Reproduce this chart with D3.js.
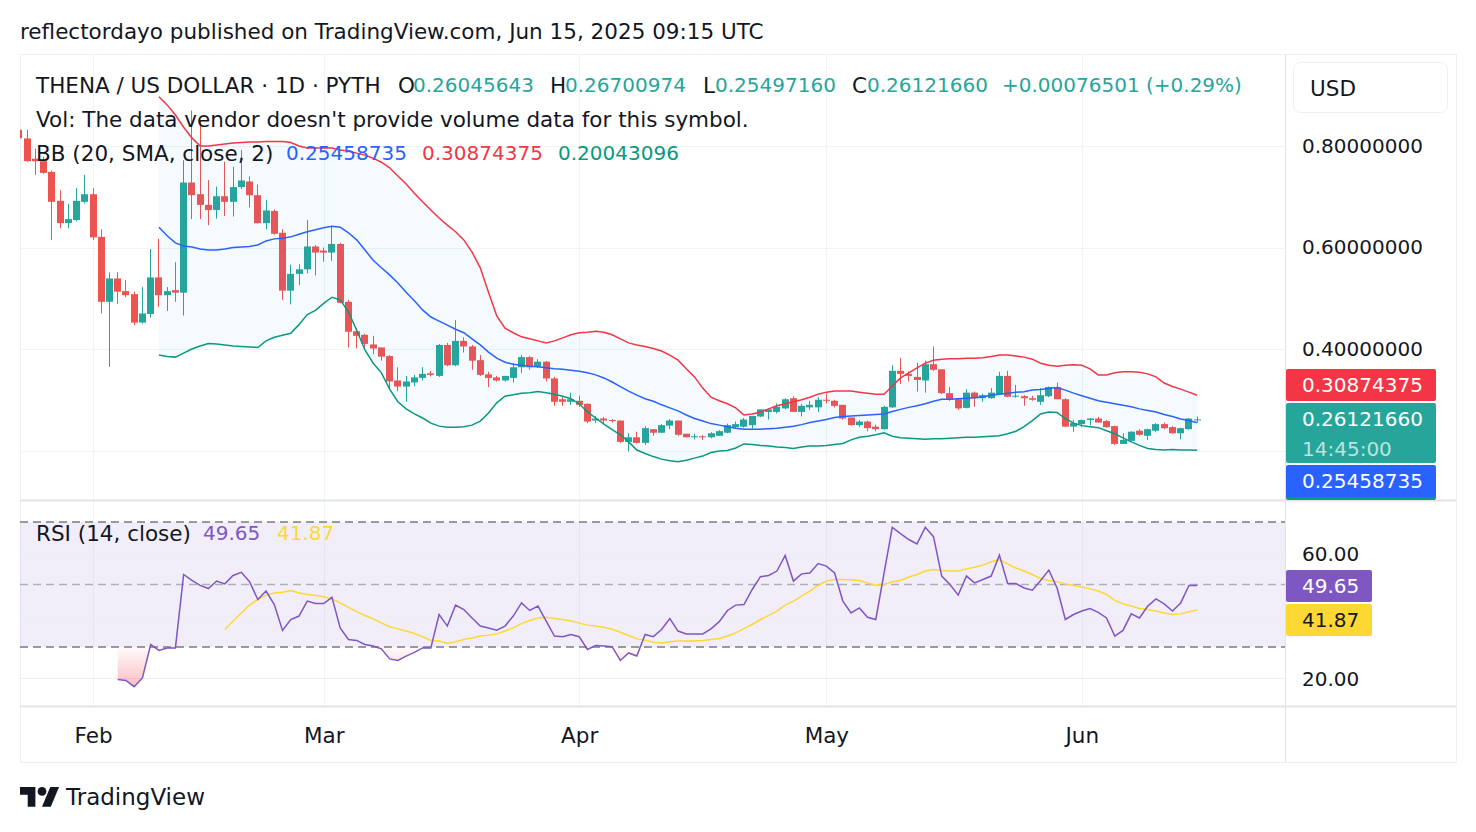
<!DOCTYPE html>
<html>
<head>
<meta charset="utf-8">
<script src="https://d3js.org/d3.v7.min.js"></script>
<style>
  body { margin: 0; background: #ffffff; }
  svg { display: block; font-family: "DejaVu Sans", "Noto Sans", sans-serif; }
</style>
</head>
<body>
<script>
// daily candles THENA/USD, first bar 2025-01-23
var firstDay = "2025-01-23";
var open = [0.832,0.815,0.775,0.770,0.749,0.692,0.648,0.654,0.690,
  0.705,0.621,0.493,0.539,0.514,0.508,0.452,0.469,0.541,0.506,0.516,0.511,0.728,0.705,0.684,0.674,0.701,0.690,0.719,0.730,0.703,0.648,0.672,0.629,0.515,0.548,0.557,0.602,
  0.594,0.590,0.607,0.493,0.435,0.428,0.409,0.403,0.386,0.338,0.326,0.334,0.343,0.352,0.347,0.408,0.368,0.416,0.405,0.378,0.350,0.344,0.338,0.343,0.364,0.384,0.365,0.375,0.342,0.301,0.296,
  0.298,0.292,0.259,0.263,0.260,0.259,0.217,0.226,0.215,0.242,0.235,0.249,0.259,0.233,0.226,0.228,0.226,0.229,0.235,0.246,0.247,0.250,0.267,0.276,0.276,0.283,0.303,0.276,0.285,0.285,
  0.300,0.298,0.290,0.265,0.250,0.257,0.247,0.242,0.285,0.357,0.351,0.345,0.338,0.370,0.360,0.313,0.301,0.284,0.314,0.303,0.303,0.311,0.347,0.306,0.307,0.303,0.296,0.307,0.325,0.301,0.247,
  0.252,0.260,0.263,0.258,0.248,0.213,0.219,0.239,0.229,0.239,0.252,0.246,0.234,0.242,0.26045643];
var high = [0.840,0.832,0.795,0.779,0.752,0.713,0.686,0.717,0.743,
  0.717,0.636,0.551,0.551,0.536,0.513,0.522,0.597,0.617,0.522,0.571,0.772,0.870,0.850,0.733,0.720,0.769,0.759,0.792,0.740,0.724,0.694,0.675,0.636,0.566,0.567,0.654,0.605,
  0.600,0.642,0.609,0.497,0.441,0.430,0.426,0.403,0.388,0.364,0.347,0.349,0.364,0.357,0.410,0.412,0.457,0.423,0.408,0.388,0.355,0.347,0.347,0.372,0.388,0.386,0.380,0.376,0.345,0.306,0.314,
  0.308,0.293,0.268,0.266,0.262,0.259,0.234,0.237,0.248,0.242,0.252,0.262,0.259,0.233,0.233,0.230,0.236,0.240,0.253,0.257,0.264,0.268,0.281,0.283,0.293,0.303,0.307,0.292,0.298,0.305,
  0.312,0.300,0.290,0.265,0.260,0.259,0.251,0.288,0.368,0.382,0.356,0.373,0.377,0.405,0.360,0.325,0.302,0.321,0.316,0.312,0.323,0.355,0.357,0.329,0.309,0.308,0.323,0.326,0.334,0.303,0.260,
  0.261,0.264,0.266,0.260,0.249,0.234,0.238,0.242,0.243,0.254,0.255,0.248,0.245,0.264,0.26700974];
var low = [0.808,0.769,0.743,0.745,0.615,0.638,0.638,0.652,0.687,
  0.615,0.470,0.365,0.489,0.502,0.447,0.450,0.462,0.483,0.475,0.493,0.466,0.656,0.656,0.644,0.657,0.662,0.661,0.715,0.679,0.647,0.636,0.625,0.497,0.488,0.526,0.549,0.545,
  0.572,0.574,0.490,0.403,0.401,0.398,0.390,0.377,0.323,0.317,0.296,0.327,0.338,0.346,0.345,0.366,0.366,0.393,0.359,0.347,0.325,0.336,0.336,0.334,0.353,0.359,0.363,0.336,0.288,0.288,0.290,
  0.286,0.254,0.254,0.252,0.255,0.215,0.198,0.214,0.211,0.229,0.235,0.242,0.229,0.226,0.222,0.221,0.224,0.229,0.234,0.245,0.245,0.243,0.266,0.261,0.273,0.281,0.276,0.267,0.280,0.276,
  0.293,0.285,0.261,0.249,0.246,0.238,0.238,0.241,0.284,0.331,0.336,0.316,0.314,0.357,0.311,0.298,0.280,0.283,0.286,0.296,0.302,0.310,0.305,0.304,0.288,0.298,0.290,0.305,0.301,0.246,0.237,
  0.246,0.250,0.255,0.245,0.211,0.213,0.219,0.229,0.221,0.236,0.242,0.233,0.222,0.241,0.25497160];
var close = [0.815,0.770,0.770,0.747,0.690,0.648,0.656,0.692,0.705,
  0.620,0.493,0.539,0.513,0.506,0.452,0.470,0.541,0.506,0.514,0.511,0.728,0.703,0.684,0.674,0.701,0.690,0.719,0.732,0.703,0.648,0.673,0.627,0.515,0.548,0.557,0.602,0.590,
  0.590,0.607,0.491,0.434,0.426,0.410,0.401,0.385,0.336,0.326,0.336,0.344,0.351,0.349,0.408,0.368,0.416,0.405,0.377,0.349,0.343,0.338,0.347,0.364,0.384,0.364,0.375,0.342,0.296,0.296,0.301,
  0.290,0.257,0.263,0.259,0.258,0.217,0.226,0.215,0.244,0.235,0.250,0.259,0.231,0.226,0.228,0.226,0.234,0.238,0.250,0.252,0.261,0.268,0.281,0.281,0.286,0.301,0.276,0.288,0.290,0.300,
  0.298,0.288,0.263,0.250,0.257,0.244,0.242,0.286,0.357,0.351,0.347,0.339,0.370,0.359,0.313,0.300,0.283,0.314,0.303,0.309,0.314,0.347,0.306,0.308,0.303,0.300,0.309,0.325,0.301,0.247,0.254,
  0.260,0.263,0.255,0.246,0.213,0.221,0.237,0.231,0.242,0.252,0.244,0.234,0.244,0.263,0.26121660];

// Bollinger Bands (20, 2), first value 2025-02-09
var bbStart = "2025-02-09";
var bbUpper = [0.897,0.881,0.861,0.837,0.816,0.800,0.800,0.802,0.804,0.806,0.807,0.808,0.808,0.809,0.809,0.809,0.807,0.800,0.796,0.796,
  0.796,0.796,0.792,0.790,0.786,0.782,0.776,0.768,0.757,0.741,0.725,0.707,0.690,0.674,0.658,0.644,0.631,0.615,0.591,0.560,0.512,0.465,0.441,0.432,0.424,0.420,0.416,0.412,0.416,0.422,0.428,
  0.432,0.433,0.435,0.433,0.428,0.420,0.412,0.408,0.405,0.401,0.396,0.388,0.378,0.361,0.345,0.323,0.305,0.298,0.292,0.284,0.270,0.272,0.276,0.282,0.288,0.292,0.296,0.300,0.305,0.311,
  0.315,0.317,0.317,0.317,0.315,0.313,0.311,0.311,0.327,0.343,0.353,0.363,0.372,0.378,0.380,0.381,0.381,0.382,0.382,0.383,0.385,0.388,0.388,0.386,0.384,0.380,0.372,0.368,0.366,0.368,0.369,
  0.368,0.361,0.349,0.349,0.353,0.355,0.355,0.354,0.351,0.345,0.333,0.326,0.321,0.315,0.30874375];
var bbBasis = [0.640,0.623,0.609,0.603,0.601,0.597,0.595,0.595,0.597,0.600,0.601,0.602,0.605,0.613,0.617,0.618,0.621,0.626,0.631,0.635,
  0.639,0.642,0.640,0.629,0.615,0.595,0.575,0.560,0.546,0.530,0.512,0.495,0.477,0.463,0.455,0.447,0.439,0.432,0.420,0.408,0.394,0.382,0.374,0.370,0.368,0.366,0.365,0.363,0.361,0.360,0.358,
  0.356,0.353,0.349,0.343,0.335,0.326,0.317,0.309,0.302,0.297,0.290,0.284,0.278,0.270,0.263,0.258,0.253,0.250,0.247,0.244,0.242,0.242,0.242,0.243,0.244,0.246,0.248,0.251,0.255,0.258,
  0.261,0.265,0.267,0.268,0.269,0.270,0.271,0.272,0.277,0.281,0.285,0.288,0.292,0.297,0.301,0.301,0.302,0.303,0.304,0.306,0.309,0.311,0.313,0.315,0.316,0.319,0.320,0.322,0.324,0.319,0.313,
  0.308,0.303,0.298,0.295,0.292,0.289,0.286,0.282,0.279,0.276,0.271,0.267,0.262,0.259,0.25458735];
var bbLower = [0.388,0.385,0.384,0.392,0.400,0.406,0.411,0.410,0.408,0.406,0.405,0.404,0.403,0.416,0.423,0.427,0.431,0.448,0.468,0.476,
  0.490,0.502,0.497,0.473,0.437,0.398,0.372,0.353,0.321,0.296,0.282,0.272,0.264,0.254,0.248,0.246,0.246,0.247,0.250,0.258,0.274,0.294,0.307,0.310,0.313,0.314,0.316,0.314,0.311,0.307,0.302,
  0.292,0.276,0.264,0.252,0.241,0.231,0.217,0.201,0.194,0.188,0.183,0.180,0.178,0.181,0.185,0.189,0.196,0.199,0.200,0.205,0.213,0.212,0.210,0.209,0.207,0.206,0.204,0.207,0.209,0.209,
  0.210,0.212,0.214,0.221,0.226,0.228,0.231,0.235,0.228,0.225,0.224,0.223,0.222,0.223,0.223,0.224,0.225,0.226,0.226,0.227,0.228,0.229,0.233,0.238,0.247,0.259,0.272,0.276,0.275,0.263,0.254,
  0.249,0.247,0.245,0.239,0.233,0.225,0.217,0.210,0.204,0.202,0.201,0.202,0.201,0.201,0.20043096];

// RSI (14) from 2025-02-04, its moving average from 2025-02-17
var rsiStart = "2025-02-04";
var rsi = [19.6,19.3,17.3,20.1,30.8,28.9,29.7,29.7,53.2,51.3,49.7,48.7,51.1,50.2,52.9,53.9,50.9,45.2,47.9,43.6,35.3,38.8,39.9,44.7,43.9,
  43.9,45.9,36.1,32.4,32.1,30.8,30.3,29.4,26.2,25.7,27.1,28.3,29.7,29.7,40.4,36.7,43.4,42.0,39.3,36.7,36.1,35.4,36.7,39.9,44.1,41.7,43.1,38.3,33.5,33.3,34.0,
  33.3,29.2,30.5,30.3,30.1,25.7,28.1,27.1,34.0,33.3,35.6,39.1,35.1,34.2,34.2,34.2,35.8,38.1,41.7,43.4,43.6,48.4,52.5,52.9,54.3,59.3,51.1,53.4,53.7,56.7,
  55.9,53.7,44.7,40.9,42.5,39.5,38.8,53.6,68.3,66.3,64.4,63.0,68.3,65.3,52.7,50.0,46.6,52.7,50.5,51.6,52.7,59.4,50.3,50.3,48.9,48.2,51.3,54.6,48.9,38.8,40.4,
  41.5,42.3,41.1,39.3,33.5,35.3,40.6,39.3,43.1,45.4,43.8,41.5,44.1,49.7,49.65];
var rsiMaStart = "2025-02-17";
var rsiMa = [35.6,38.3,40.9,43.4,45.2,46.6,47.3,47.5,48.1,47.3,46.8,46.5,
  46.1,45.4,44.1,42.7,41.3,40.1,39.0,37.7,36.5,35.8,35.1,34.3,33.3,32.1,31.9,31.1,31.7,32.4,32.9,33.5,33.8,34.2,35.1,36.1,37.5,38.5,39.3,39.5,39.1,38.8,38.3,
  37.7,37.0,36.7,36.3,35.7,34.7,33.7,32.6,32.2,31.5,31.3,31.7,31.9,31.9,31.9,32.1,32.4,32.7,33.5,34.5,35.9,37.2,38.8,40.1,41.5,43.4,44.7,46.3,47.9,49.7,
  51.1,51.6,51.6,51.5,51.3,50.5,49.8,50.0,50.9,51.3,52.4,53.2,54.3,54.8,54.5,54.3,54.3,55.0,55.5,56.2,57.3,58.0,56.6,55.3,54.3,53.2,51.9,51.3,50.9,50.2,49.7,
  49.2,48.6,47.9,46.8,44.9,43.8,43.1,42.3,42.0,41.5,40.9,40.4,40.6,41.3,41.87];

var priceGrid = [0.2, 0.4, 0.6, 0.8];
var priceLabels = [0.4, 0.6, 0.8];       // 0.2 sits under the value badges
var rsiGrid = [20, 40, 60];
var rsiLabels = [20, 60];                // 40 sits under the value badges
var monthTicks = ["2025-02-01", "2025-03-01", "2025-04-01", "2025-05-01", "2025-06-01"];
var monthLabels = ["Feb", "Mar", "Apr", "May", "Jun"];

var upColor = "#26a69a", downColor = "#ef5350";
var W = 1476, H = 832;
var FS = 20;      // numbers
var FW = 21.5;    // words
var parse = d3.utcParse("%Y-%m-%d");

function dayList(start, n) {
  var s = parse(start);
  return d3.utcDay.range(s, d3.utcDay.offset(s, n));
}
var candles = dayList(firstDay, open.length).map(function(d, i) {
  return {date: d, o: open[i], h: high[i], l: low[i], c: close[i]};
});
var bb = dayList(bbStart, bbBasis.length).map(function(d, i) {
  return {date: d, up: bbUpper[i], mid: bbBasis[i], lo: bbLower[i]};
});
var rsiPts = dayList(rsiStart, rsi.length).map(function(d, i) { return {date: d, v: rsi[i]}; });
var maPts = dayList(rsiMaStart, rsiMa.length).map(function(d, i) { return {date: d, v: rsiMa[i]}; });

// layout
var left = 20, paneRight = 1285, right = 1456;
var mainTop = 55, mainBottom = 500, rsiTop = 501, rsiBottom = 706, axisBottom = 762;

var x = d3.scaleUtc().domain([parse("2025-02-01"), parse("2025-06-01")]).range([93, 1081.8]);
var y = d3.scaleLinear().domain([0.2, 0.8]).range([450.5, 146]);
var yr = d3.scaleLinear().domain([30, 70]).range([647, 522]);

var svg = d3.select("body").append("svg").attr("width", W).attr("height", H);
var defs = svg.append("defs");
defs.append("clipPath").attr("id", "mainClip").append("rect")
  .attr("x", left).attr("y", mainTop).attr("width", paneRight - left).attr("height", mainBottom - mainTop);
defs.append("clipPath").attr("id", "rsiClip").append("rect")
  .attr("x", left).attr("y", rsiTop).attr("width", paneRight - left).attr("height", rsiBottom - rsiTop);
defs.append("clipPath").attr("id", "osClip").append("rect")
  .attr("x", left).attr("y", yr(30)).attr("width", paneRight - left).attr("height", rsiBottom - yr(30));
var grad = defs.append("linearGradient").attr("id", "osGrad")
  .attr("gradientUnits", "userSpaceOnUse").attr("x1", 0).attr("x2", 0).attr("y1", yr(30)).attr("y2", yr(10));
grad.append("stop").attr("offset", 0).attr("stop-color", "#f23645").attr("stop-opacity", 0.02);
grad.append("stop").attr("offset", 1).attr("stop-color", "#f23645").attr("stop-opacity", 0.5);

function txt(g, tx, ty, s, col, size) {
  return g.append("text").attr("x", tx).attr("y", ty).attr("dominant-baseline", "central")
    .attr("font-size", size || FS).attr("fill", col || "#131722").text(s);
}

// header
txt(svg, 20, 31, "reflectordayo published on TradingView.com, Jun 15, 2025 09:15 UTC", null, FW);

// frame
svg.append("rect").attr("x", left + 0.5).attr("y", 54.5).attr("width", right - left).attr("height", axisBottom - 54)
  .attr("fill", "none").attr("stroke", "#eef0f4");

// grid
var grid = svg.append("g").attr("stroke", "#f0f3fa").attr("stroke-width", 1);
monthTicks.forEach(function(m) {
  var gx = Math.round(x(parse(m))) + 0.5;
  grid.append("line").attr("x1", gx).attr("x2", gx).attr("y1", mainTop).attr("y2", rsiBottom);
});
priceGrid.forEach(function(p) {
  var gy = Math.round(y(p)) + 0.5;
  grid.append("line").attr("x1", left).attr("x2", paneRight).attr("y1", gy).attr("y2", gy);
});

// main pane: candles, then bands on top
var main = svg.append("g").attr("clip-path", "url(#mainClip)");
var cg = main.append("g");
candles.forEach(function(d) {
  var cx = x(d.date);
  var col = d.c >= d.o ? upColor : downColor;
  var bl = Math.round(cx - 3.5);
  cg.append("rect").attr("x", bl + 3).attr("width", 1)
    .attr("y", y(d.h)).attr("height", Math.max(1, y(d.l) - y(d.h))).attr("fill", col);
  var top = y(Math.max(d.o, d.c)), bot = y(Math.min(d.o, d.c));
  cg.append("rect").attr("x", bl).attr("width", 7)
    .attr("y", top).attr("height", Math.max(1, bot - top)).attr("fill", col);
});

main.append("path").datum(bb)
  .attr("d", d3.area().x(function(d) { return x(d.date); }).y0(function(d) { return y(d.lo); }).y1(function(d) { return y(d.up); }))
  .attr("fill", "rgba(33,150,243,0.05)");
[["up", "#f23645"], ["mid", "#2962ff"], ["lo", "#089981"]].forEach(function(s) {
  main.append("path").datum(bb)
    .attr("d", d3.line().x(function(d) { return x(d.date); }).y(function(d) { return y(d[s[0]]); }))
    .attr("fill", "none").attr("stroke", s[1]).attr("stroke-width", 1.5);
});

// rsi pane
var rp = svg.append("g").attr("clip-path", "url(#rsiClip)");
rp.append("rect").attr("x", left).attr("width", paneRight - left)
  .attr("y", yr(70)).attr("height", yr(30) - yr(70)).attr("fill", "rgba(126,87,194,0.1)");
rsiGrid.forEach(function(t) {
  var gy = Math.round(yr(t)) + 0.5;
  rp.append("line").attr("x1", left).attr("x2", paneRight).attr("y1", gy).attr("y2", gy)
    .attr("stroke", "#eceef4");
});
[[70, "#787b86"], [50, "rgba(120,123,134,0.55)"], [30, "#787b86"]].forEach(function(b) {
  rp.append("line").attr("x1", left).attr("x2", paneRight).attr("y1", yr(b[0])).attr("y2", yr(b[0]))
    .attr("stroke", b[1]).attr("stroke-width", 1.5).attr("stroke-dasharray", "8,5");
});
rp.append("path").datum(rsiPts).attr("clip-path", "url(#osClip)")
  .attr("d", d3.area().x(function(d) { return x(d.date); }).y0(yr(30)).y1(function(d) { return yr(d.v); }))
  .attr("fill", "url(#osGrad)");
rp.append("path").datum(maPts)
  .attr("d", d3.line().x(function(d) { return x(d.date); }).y(function(d) { return yr(d.v); }))
  .attr("fill", "none").attr("stroke", "#fdd835").attr("stroke-width", 1.5);
rp.append("path").datum(rsiPts)
  .attr("d", d3.line().x(function(d) { return x(d.date); }).y(function(d) { return yr(d.v); }))
  .attr("fill", "none").attr("stroke", "#7e57c2").attr("stroke-width", 1.5);

// separators
var sep = svg.append("g").attr("stroke", "#e0e3eb");
sep.append("line").attr("x1", left).attr("x2", right).attr("y1", 500.5).attr("y2", 500.5).attr("stroke-width", 2);
sep.append("line").attr("x1", left).attr("x2", right).attr("y1", 706.5).attr("y2", 706.5).attr("stroke-width", 2);
sep.append("line").attr("x1", paneRight + 0.5).attr("x2", paneRight + 0.5).attr("y1", 54).attr("y2", axisBottom);

// legends
var lg = svg.append("g");
txt(lg, 36, 85, "THENA / US DOLLAR · 1D · PYTH", null, FW);
txt(lg, 398, 85, "O", null, FW); txt(lg, 413, 85, "0.26045643", upColor);
txt(lg, 550, 85, "H", null, FW); txt(lg, 565, 85, "0.26700974", upColor);
txt(lg, 703, 85, "L", null, FW); txt(lg, 715, 85, "0.25497160", upColor);
txt(lg, 852, 85, "C", null, FW); txt(lg, 867, 85, "0.26121660", upColor);
txt(lg, 1002, 85, "+0.00076501 (+0.29%)", upColor);
txt(lg, 36, 119, "Vol: The data vendor doesn't provide volume data for this symbol.", null, FW);
txt(lg, 36, 153, "BB (20, SMA, close, 2)", null, FW);
txt(lg, 286, 153, "0.25458735", "#2962ff");
txt(lg, 422, 153, "0.30874375", "#f23645");
txt(lg, 558, 153, "0.20043096", "#089981");
txt(lg, 36, 533, "RSI (14, close)", null, FW);
txt(lg, 203, 533, "49.65", "#7e57c2");
txt(lg, 277, 533, "41.87", "#fdd835");

// price axes
function styleAxis(g, size) {
  g.select(".domain").remove();
  g.selectAll("text").attr("font-size", size || FS).attr("font-family", "'DejaVu Sans', 'Noto Sans', sans-serif").attr("fill", "#131722");
}
svg.append("g").attr("transform", "translate(1285,0)")
  .call(d3.axisRight(y).tickValues(priceLabels).tickSize(0).tickPadding(17).tickFormat(d3.format(".8f")))
  .call(styleAxis);
svg.append("g").attr("transform", "translate(1285,1)")
  .call(d3.axisRight(yr).tickValues(rsiLabels).tickSize(0).tickPadding(17).tickFormat(d3.format(".2f")))
  .call(styleAxis);

// USD box
svg.append("rect").attr("x", 1293.5).attr("y", 62.5).attr("width", 154).attr("height", 50).attr("rx", 7)
  .attr("fill", "#fff").attr("stroke", "#eef0f4");
txt(svg, 1310, 88, "USD", null, FW);

// value badges
function badge(by, bh, w, col, label, tcol) {
  svg.append("rect").attr("x", 1286).attr("y", by).attr("width", w).attr("height", bh).attr("rx", 2).attr("fill", col);
  txt(svg, 1302, by + 16, label, tcol || "#ffffff");
}
svg.append("rect").attr("x", 1286).attr("y", 468).attr("width", 150).attr("height", 32).attr("rx", 2).attr("fill", "#089981");
badge(369, 32, 150, "#f23645", "0.30874375");
badge(403, 60, 150, upColor, "0.26121660");
txt(svg, 1302, 449, "14:45:00", "rgba(255,255,255,0.7)");
badge(465, 32, 150, "#2962ff", "0.25458735");
badge(570, 32, 86, "#7e57c2", "49.65");
badge(604, 32, 86, "#fdd835", "41.87", "#131722");

// time axis
svg.append("g").attr("transform", "translate(0,722)")
  .call(d3.axisBottom(x).tickValues(monthTicks.map(parse)).tickSize(0).tickPadding(0)
    .tickFormat(function(d, i) { return monthLabels[i]; }))
  .call(styleAxis, FW)
  .selectAll("text").attr("dy", "0.35em").attr("y", 13);

// footer logo
var logo = svg.append("g").attr("transform", "translate(20,782.6) scale(1.1)").attr("fill", "#131722");
logo.append("path").attr("d", "M14 22H7V11H0V4h14v18zM28 22h-8l7.5-18h8L28 22z");
logo.append("circle").attr("cx", 20).attr("cy", 8).attr("r", 4);
txt(svg, 66, 797, "TradingView", "#131722", 23);
</script>
</body>
</html>
